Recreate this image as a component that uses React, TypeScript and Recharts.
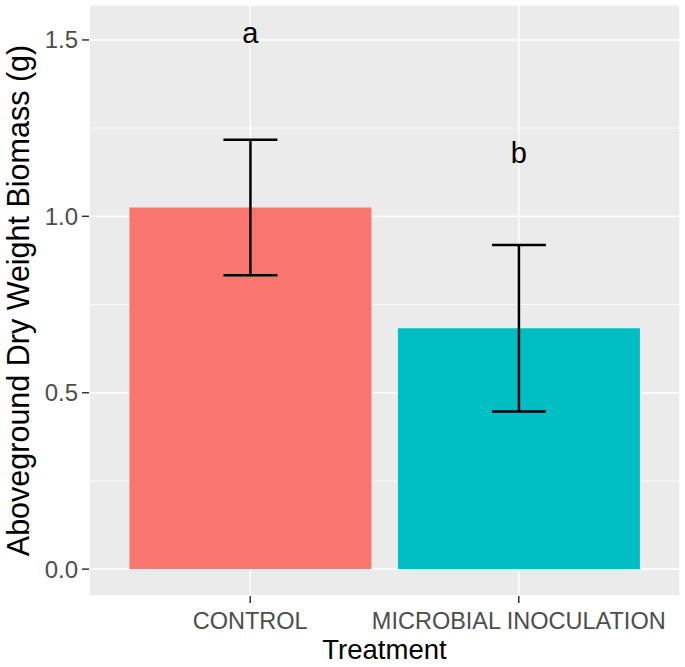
import React from 'react';
import {
  ComposedChart,
  Bar,
  Cell,
  ErrorBar,
  Scatter,
  XAxis,
  YAxis,
  CartesianGrid,
} from 'recharts';

const treatments = ['CONTROL', 'MICROBIAL INOCULATION'];
const biomassMean = [1.025, 0.683];
const biomassSe = [0.192, 0.236];
const letters = ['a', 'b'];
const letterY = [1.49, 1.15];
const barColors = ['#F8766D', '#00BFC4'];
const yTicks = [0, 0.5, 1, 1.5];
const minorTicks = [0.25, 0.75, 1.25];

const data = treatments.map((t, i) => ({
  treatment: t,
  mean: biomassMean[i],
  se: biomassSe[i],
  letter: letters[i],
  letterY: letterY[i],
}));

const FONT = '"Liberation Sans", Arial, Helvetica, sans-serif';

const LetterShape = (props: any) => {
  const { cx, cy, payload } = props;
  return (
    <text x={cx} y={cy} textAnchor="middle" fontSize={29} fill="#000" fontFamily={FONT}>
      {payload.letter}
    </text>
  );
};

const YTitle = (props: any) => {
  const { viewBox } = props;
  const x = viewBox.x + 18;
  const y = viewBox.y + viewBox.height / 2;
  return (
    <text
      x={x}
      y={y}
      transform={`rotate(-90, ${x}, ${y})`}
      textAnchor="middle"
      dy="0.355em"
      fontSize={30.5}
      fill="#000"
      fontFamily={FONT}
    >
      Aboveground Dry Weight Biomass (g)
    </text>
  );
};

export default function App() {
  return (
    <div style={{ position: 'absolute', left: 0, top: 0, background: '#fff' }}>
      <ComposedChart
        width={685}
        height={667}
        data={data}
        margin={{ top: 5, right: 5, bottom: 0, left: 0 }}
        barCategoryGap="5%"
      >
        <CartesianGrid fill="#EBEBEB" fillOpacity={1} stroke="#fff" strokeWidth={1.5} />
        <CartesianGrid
          horizontalValues={minorTicks}
          vertical={false}
          stroke="#fff"
          strokeWidth={0.75}
        />
        <XAxis
          dataKey="treatment"
          type="category"
          height={71}
          padding={{ left: 27, right: 27 }}
          axisLine={false}
          tickSize={7}
          tickMargin={9}
          tickLine={{ stroke: '#333333', strokeWidth: 1.5 }}
          tick={{ fill: '#4D4D4D', fontSize: 23.5, fontFamily: FONT }}
          interval={0}
          label={{
            value: 'Treatment',
            position: 'insideBottom',
            offset: 8,
            fontSize: 27.5,
            fill: '#000',
            fontFamily: FONT,
          }}
        />
        <YAxis
          type="number"
          width={89}
          domain={[-0.0762, 1.599]}
          allowDataOverflow
          ticks={yTicks}
          tickFormatter={(v: number) => v.toFixed(1)}
          axisLine={false}
          tickSize={7}
          tickMargin={4}
          tickLine={{ stroke: '#333333', strokeWidth: 1.5 }}
          tick={{ fill: '#4D4D4D', fontSize: 24, fontFamily: FONT }}
          label={<YTitle />}
        />
        <Bar dataKey="mean" isAnimationActive={false}>
          {data.map((d, i) => (
            <Cell key={d.treatment} fill={barColors[i]} />
          ))}
          <ErrorBar dataKey="se" width={27} stroke="#000" strokeWidth={2.5} direction="y" />
        </Bar>
        <Scatter dataKey="letterY" shape={<LetterShape />} isAnimationActive={false} />
      </ComposedChart>
    </div>
  );
}
